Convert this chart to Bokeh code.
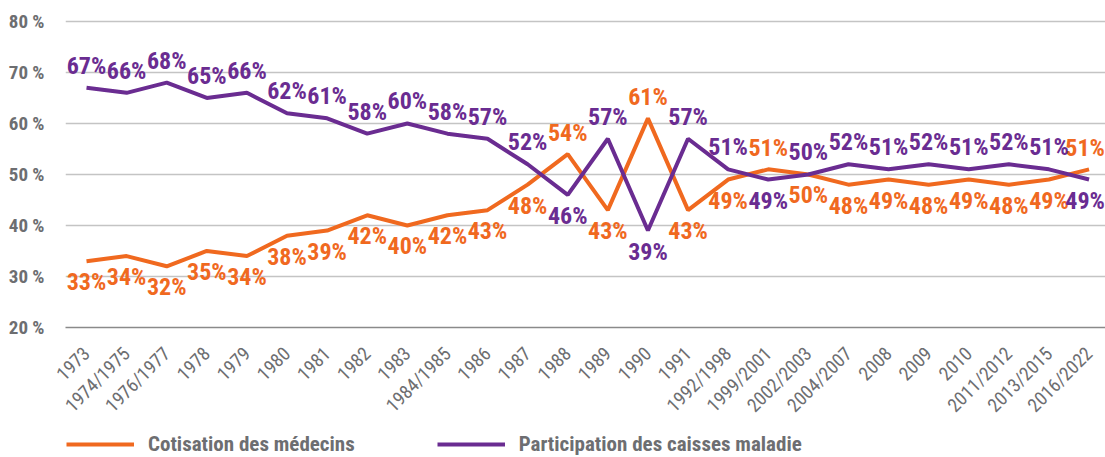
from bokeh.plotting import figure
from bokeh.layouts import column
from bokeh.models import (ColumnDataSource, Range1d, FixedTicker, Legend, LegendItem)
from bokeh.core.properties import value
from bokeh.embed import file_html
from bokeh.resources import INLINE

categories = ["1973", "1974/1975", "1976/1977", "1978", "1979", "1980", "1981", "1982",
              "1983", "1984/1985", "1986", "1987", "1988", "1989", "1990", "1991",
              "1992/1998", "1999/2001", "2002/2003", "2004/2007", "2008", "2009", "2010",
              "2011/2012", "2013/2015", "2016/2022"]
cotisation_medecins = [33, 34, 32, 35, 34, 38, 39, 42, 40, 42, 43, 48, 54, 43, 61, 43,
                       49, 51, 50, 48, 49, 48, 49, 48, 49, 51]
participation_caisses = [67, 66, 68, 65, 66, 62, 61, 58, 60, 58, 57, 52, 46, 57, 39, 57,
                         51, 49, 50, 52, 51, 52, 51, 52, 51, 49]
y_ticks = [20, 30, 40, 50, 60, 70, 80]
series_names = ["Cotisation des médecins", "Participation des caisses maladie"]

ORANGE = "#f0691f"
PURPLE = "#6a2c91"
GREY = "#6d6e71"
FONT = "Noto Sans ExtraCondensed, Noto Sans Condensed, Roboto Condensed, DejaVu Sans Condensed"

xs = list(range(len(categories)))
n = len(xs)

p = figure(width=1105, height=427, output_backend="svg", toolbar_location=None,
           x_range=Range1d(-0.524, 25.41), y_range=Range1d(20, 84.1),
           min_border_left=65, min_border_right=0, min_border_top=0, min_border_bottom=99)
p.outline_line_color = None
p.background_fill_color = "white"

p.xgrid.grid_line_color = None
p.ygrid.grid_line_color = "#c4c4c4"
p.ygrid.grid_line_width = 1.5
p.yaxis.ticker = FixedTicker(ticks=y_ticks)
p.yaxis.major_label_overrides = {t: f"{t} %" for t in y_ticks}
p.yaxis.axis_line_color = None
p.yaxis.major_tick_line_color = None
p.yaxis.minor_tick_line_color = None
p.yaxis.major_label_text_font = FONT
p.yaxis.major_label_text_font_style = "bold"
p.yaxis.major_label_text_font_size = "19px"
p.yaxis.major_label_text_color = GREY
p.yaxis.major_label_standoff = 15

p.xaxis.ticker = FixedTicker(ticks=xs)
p.xaxis.major_label_overrides = {i: c for i, c in enumerate(categories)}
p.xaxis.axis_line_color = "#8a8a8a"
p.xaxis.axis_line_width = 1.5
p.xaxis.major_tick_line_color = None
p.xaxis.minor_tick_line_color = None
p.xaxis.major_label_orientation = 0.785398
p.xaxis.major_label_text_font = FONT
p.xaxis.major_label_text_font_size = "19px"
p.xaxis.major_label_text_color = GREY
p.xaxis.major_label_standoff = 17

src = ColumnDataSource(dict(
    x=xs, orange=cotisation_medecins, purple=participation_caisses,
    olab=[f"{v}%" for v in cotisation_medecins],
    plab=[f"{v}%" for v in participation_caisses],
    ooff=[-21 if o > q else 21 for o, q in zip(cotisation_medecins, participation_caisses)],
    poff=[-22 if q >= o else 21 for o, q in zip(cotisation_medecins, participation_caisses)],
    xoff=[0] * (n - 1) + [-4],
))

p.line("x", "orange", source=src, line_color=ORANGE, line_width=4)
p.line("x", "purple", source=src, line_color=PURPLE, line_width=4)

for col, lab, off, colr in (("orange", "olab", "ooff", ORANGE), ("purple", "plab", "poff", PURPLE)):
    p.text("x", col, text=lab, source=src, y_offset=off, x_offset="xoff", text_align="center",
           text_baseline="middle", text_font=value(FONT), text_font_style="bold",
           text_font_size="24px", text_color=colr)

# legend strip below the chart (series lines fall outside its 0..1 view; only legend shows)
lg = figure(width=1105, height=30, output_backend="svg", toolbar_location=None,
            x_range=Range1d(0, 1), y_range=Range1d(0, 1),
            min_border_left=0, min_border_right=0, min_border_top=0, min_border_bottom=0)
lg.axis.visible = False
lg.grid.visible = False
lg.outline_line_color = None
lo = lg.line("x", "orange", source=src, line_color=ORANGE, line_width=4)
lp = lg.line("x", "purple", source=src, line_color=PURPLE, line_width=4)
legend = Legend(items=[LegendItem(label=series_names[0], renderers=[lo]),
                       LegendItem(label=series_names[1], renderers=[lp])],
                orientation="horizontal", location=(1, 0),
                glyph_width=68, glyph_height=26, label_height=26, label_standoff=14, spacing=82,
                label_text_font=FONT, label_text_font_style="bold", label_text_font_size="21px",
                label_text_color=GREY, border_line_color=None, background_fill_alpha=0,
                padding=0, margin=0)
lg.add_layout(legend, "center")

open("out.html", "w").write(file_html(column(p, lg, spacing=0), INLINE))
